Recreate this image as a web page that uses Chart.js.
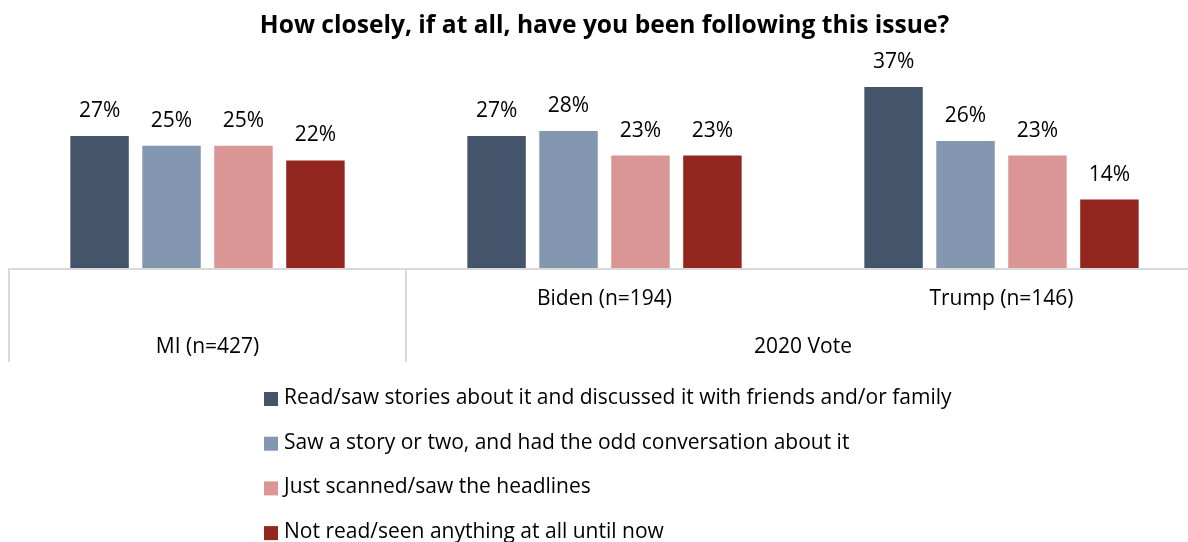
<!DOCTYPE html>
<html>
<head>
<meta charset="utf-8">
<title>Issue following</title>
<script src="https://cdn.jsdelivr.net/npm/chart.js@4.4.1/dist/chart.umd.min.js"></script>
<style>
    html, body { margin: 0; padding: 0; background: #fff; overflow: hidden; }
    #wrap { width: 1200px; height: 542px; }
</style>
</head>
<body>
<div id="wrap"><canvas id="followChart" width="1200" height="542"></canvas></div>
<script>
// Category axis: inner level (sub groups) and outer level (groups)
const innerLabels = ['', 'Biden (n=194)', 'Trump (n=146)'];
const outerLabels = ['MI (n=427)', '2020 Vote', '2020 Vote'];

// Series (% of respondents)
const seriesNames = [
    'Read/saw stories about it and discussed it with friends and/or family',
    'Saw a story or two, and had the odd conversation about it',
    'Just scanned/saw the headlines',
    'Not read/seen anything at all until now'
];
const readDiscussed = [27, 27, 37];
const storyOrTwo = [25, 28, 26];
const scannedHeadlines = [25, 23, 23];
const notSeen = [22, 23, 14];

const seriesColors = ['#44546a', '#8497b0', '#da9694', '#932720'];
const FONT = '"Open Sans", sans-serif';
const GRID = '#d9d9d9';

document.addEventListener('DOMContentLoaded', () => {
    initFollowChart();
});

// value labels above each bar
const barLabels = {
    id: 'barLabels',
    afterDatasetsDraw(chart) {
        const ctx = chart.ctx;
        ctx.save();
        ctx.font = '21px ' + FONT;
        ctx.fillStyle = '#000';
        ctx.textAlign = 'center';
        ctx.textBaseline = 'middle';
        chart.data.datasets.forEach((ds, di) => {
            chart.getDatasetMeta(di).data.forEach((bar, i) => {
                ctx.fillText(ds.data[i] + '%', bar.x, bar.y - 25);
            });
        });
        ctx.restore();
    }
};

// two-level category table under the bars
const categoryTable = {
    id: 'categoryTable',
    afterDraw(chart) {
        const ctx = chart.ctx;
        const area = chart.chartArea;
        const x = chart.scales.x;
        const n = chart.data.labels.length;
        const bottom = area.bottom;
        const tableBottom = bottom + 94;
        const edge = i => i === 0 ? area.left : i === n ? area.right : (x.getPixelForValue(i - 1) + x.getPixelForValue(i)) / 2;

        ctx.save();
        ctx.strokeStyle = GRID;
        ctx.lineWidth = 2;
        ctx.beginPath();
        ctx.moveTo(area.left, bottom + 1);
        ctx.lineTo(area.right, bottom + 1);
        ctx.stroke();

        ctx.font = '21px ' + FONT;
        ctx.fillStyle = '#000';
        ctx.textAlign = 'center';
        ctx.textBaseline = 'middle';

        // inner level
        innerLabels.forEach((lab, i) => {
            if (lab) ctx.fillText(lab, x.getPixelForValue(i), bottom + 31);
        });

        // outer level, merging neighbours with the same label
        let start = 0;
        for (let i = 1; i <= n; i++) {
            if (i === n || outerLabels[i] !== outerLabels[start]) {
                const l = edge(start);
                const r = edge(i);
                ctx.beginPath();
                ctx.moveTo(l, bottom);
                ctx.lineTo(l, tableBottom);
                ctx.stroke();
                ctx.fillText(outerLabels[start], (l + r) / 2, bottom + 79);
                start = i;
            }
        }
        ctx.restore();
    }
};

// vertical legend below the table
const stackedLegend = {
    id: 'stackedLegend',
    afterDraw(chart) {
        const ctx = chart.ctx;
        const left = 264;
        const top = 398;
        const step = 44.7;
        ctx.save();
        ctx.font = '21px ' + FONT;
        ctx.textAlign = 'left';
        ctx.textBaseline = 'middle';
        chart.data.datasets.forEach((ds, i) => {
            const y = top + i * step;
            ctx.fillStyle = ds.backgroundColor;
            ctx.fillRect(left, y - 6, 14, 14);
            ctx.fillStyle = '#000';
            ctx.fillText(ds.label, left + 20, y);
        });
        ctx.restore();
    }
};

function initFollowChart() {
    const ctx = document.getElementById('followChart').getContext('2d');
    const series = [readDiscussed, storyOrTwo, scannedHeadlines, notSeen];
    new Chart(ctx, {
        type: 'bar',
        data: {
            labels: outerLabels.map((o, i) => innerLabels[i] || o),
            datasets: series.map((values, i) => ({
                label: seriesNames[i],
                data: values,
                backgroundColor: seriesColors[i],
                borderWidth: 0,
                categoryPercentage: 0.725,
                barPercentage: 0.8125
            }))
        },
        options: {
            responsive: false,
            animation: false,
            layout: {
                padding: { top: 0, bottom: 274, left: 9, right: 0 }
            },
            plugins: {
                legend: { display: false },
                tooltip: { enabled: false },
                title: {
                    display: true,
                    text: 'How closely, if at all, have you been following this issue?',
                    color: '#000',
                    font: { family: FONT, size: 24.6, weight: 'bold' },
                    padding: { top: 11.5, bottom: 6.98 }
                }
            },
            scales: {
                x: { display: false },
                y: { display: false, min: 0, max: 45 }
            }
        },
        plugins: [barLabels, categoryTable, stackedLegend]
    });
}
</script>
</body>
</html>
